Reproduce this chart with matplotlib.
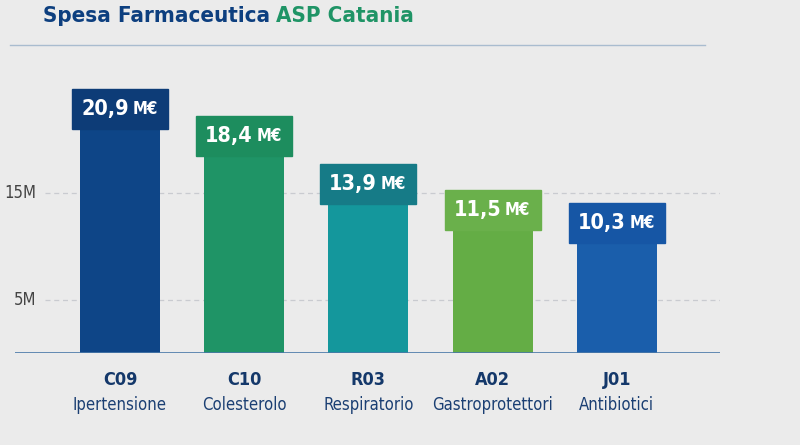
import matplotlib.pyplot as plt
from matplotlib.patches import Rectangle
from matplotlib.transforms import blended_transform_factory

plt.rcParams['font.family'] = ['DejaVu Sans']
plt.rcParams['font.stretch'] = 'condensed'

codici = ['C09', 'C10', 'R03', 'A02', 'J01']
nomi = ['Ipertensione', 'Colesterolo', 'Respiratorio', 'Gastroprotettori', 'Antibiotici']
spesa = [20.9, 18.4, 13.9, 11.5, 10.3]  # milioni di euro
etichette = ['20,9', '18,4', '13,9', '11,5', '10,3']
tick_val = [5, 15]
tick_lab = ['5M', '15M']

col_barre = ['#0e4587', '#1f9466', '#14979c', '#64ad45', '#1a5eab']
col_box = ['#0d3c77', '#1d8d5e', '#167b87', '#6ab04b', '#1656a5']
sfondo = '#ebebeb'
blu = '#0d3f7f'

fig = plt.figure(figsize=(8, 4.45), dpi=100, facecolor=sfondo)
ax = fig.add_axes([15/800, 1-353/445, 705/800, 308/445])
ax.set_facecolor(sfondo)

x = list(range(len(codici)))
ax.bar(x, spesa, width=0.644, color=col_barre, zorder=2)
ax.set_xlim(-0.845, 4.83)
ax.set_ylim(0, 28.8)

# griglia tratteggiata
tr = blended_transform_factory(ax.transAxes, ax.transData)
for v, lab in zip(tick_val, tick_lab):
    ax.axhline(v, xmin=30/705, xmax=1, color='#c9cbd0', lw=0.9, ls=(0, (4, 3)), zorder=1)
    ax.text(21/705, v, lab, transform=tr, ha='right', va='center', fontsize=12, color='#444444')

# etichette valori
bw, bh = 0.773, 3.74
for i, (v, t) in enumerate(zip(spesa, etichette)):
    ax.add_patch(Rectangle((i - bw/2, v), bw, bh, color=col_box[i], zorder=3))
    ax.text(i + 0.07, v + bh/2, t, ha='right', va='center', color='white',
            fontsize=15.5, fontweight='bold', zorder=4)
    ax.text(i + 0.10, v + bh/2, 'M€', ha='left', va='center', color='white',
            fontsize=12, fontweight='bold', zorder=4)

# linea base e linea in alto
ax.axhline(0, color='#4a78a8', lw=1.2, zorder=3)
for s in ax.spines.values():
    s.set_visible(False)
ax.set_xticks([])
ax.set_yticks([])
fig.add_artist(plt.Line2D([10/800, 705/800], [1-45/445, 1-45/445], color='#a9bccf', lw=1))

# categorie
for i, (c, n) in enumerate(zip(codici, nomi)):
    ax.text(i, -2.5, c, ha='center', va='center', fontsize=13, fontweight='bold', color='#14386a')
    ax.text(i, -4.85, n, ha='center', va='center', fontsize=12, color='#1b3f73')

# titolo
fig.text(270/800, 1-22/445, 'Spesa Farmaceutica', ha='right', va='baseline',
         fontsize=16, fontweight='bold', color=blu)
fig.text(276/800, 1-22/445, 'ASP Catania', ha='left', va='baseline',
         fontsize=16, fontweight='bold', color='#1f9466')

fig.savefig('out.png', dpi=100, facecolor=sfondo)
